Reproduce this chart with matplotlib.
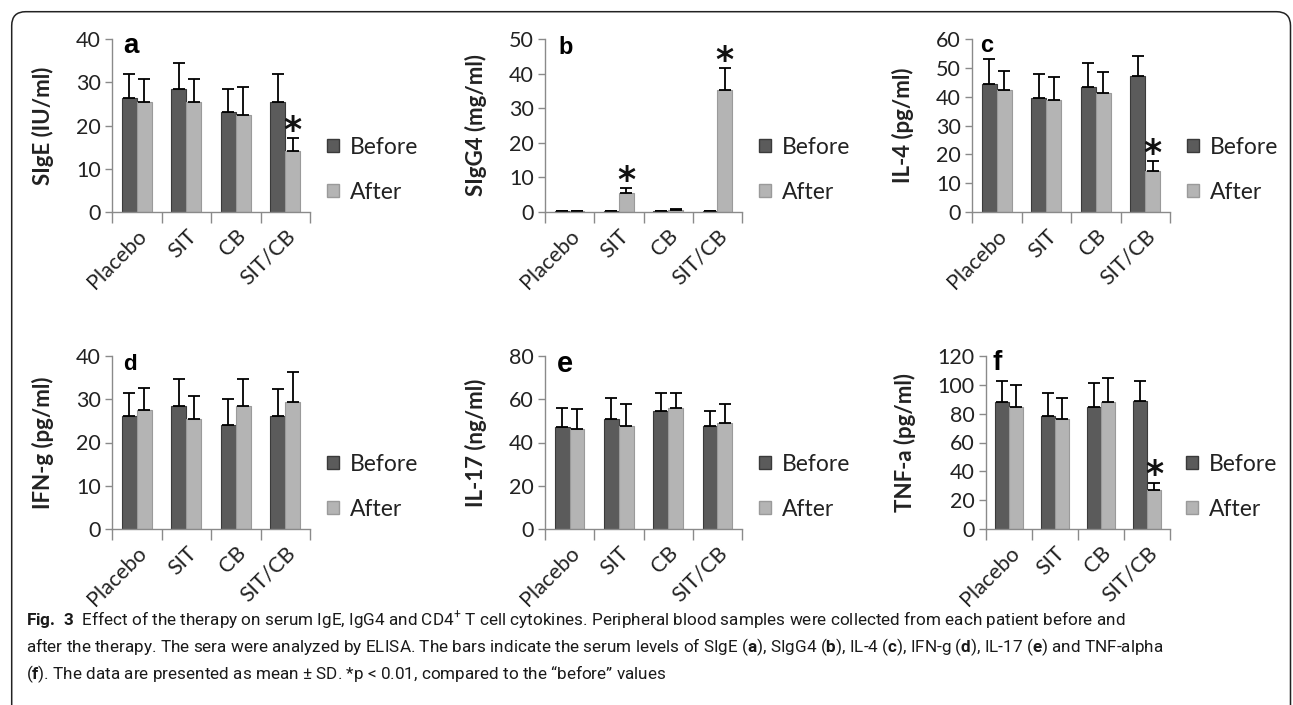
"""
Fig. 3 - serum IgE, IgG4 and CD4+ T cell cytokines, before/after therapy
"""
import matplotlib
matplotlib.use("Agg")
import matplotlib.pyplot as plt
from matplotlib.patches import FancyBboxPatch, Patch
from matplotlib.transforms import IdentityTransform

# ============ data ============
groups = ['Placebo', 'SIT', 'CB', 'SIT/CB']

sige_before    = [26.3, 28.5, 23.2, 25.5]
sige_before_sd = [5.7, 6.0, 5.3, 6.5]
sige_after     = [25.5, 25.4, 22.5, 14.0]
sige_after_sd  = [5.3, 5.4, 6.4, 3.0]

sigg4_before    = [0.3, 0.3, 0.3, 0.3]
sigg4_before_sd = [0.1, 0.1, 0.1, 0.1]
sigg4_after     = [0.3, 5.5, 0.5, 35.3]
sigg4_after_sd  = [0.1, 1.3, 0.5, 6.2]

il4_before    = [44.5, 39.5, 43.5, 47.0]
il4_before_sd = [8.5, 8.5, 8.3, 7.2]
il4_after     = [42.3, 39.0, 41.3, 14.3]
il4_after_sd  = [6.7, 7.7, 7.1, 3.3]

ifng_before    = [26.2, 28.5, 24.0, 26.2]
ifng_before_sd = [5.3, 6.1, 6.0, 6.1]
ifng_after     = [27.4, 25.4, 28.5, 29.3]
ifng_after_sd  = [5.3, 5.3, 6.1, 6.9]

il17_before    = [47.2, 50.8, 54.7, 47.8]
il17_before_sd = [8.9, 9.9, 8.2, 6.7]
il17_after     = [46.1, 47.8, 56.1, 49.2]
il17_after_sd  = [9.4, 9.8, 6.8, 8.4]

tnf_before    = [87.9, 78.6, 84.4, 89.0]
tnf_before_sd = [15.0, 16.0, 16.9, 13.9]
tnf_after     = [84.4, 76.3, 87.9, 26.8]
tnf_after_sd  = [15.7, 14.8, 17.1, 5.3]

# groups whose "after" bar carries an asterisk
sige_sig  = ['SIT/CB']
sigg4_sig = ['SIT', 'SIT/CB']
il4_sig   = ['SIT/CB']
ifng_sig  = []
il17_sig  = []
tnf_sig   = ['SIT/CB']

# ============ style ============
C_BEFORE, E_BEFORE = '#5b5b5b', '#3a3a3a'
C_AFTER, E_AFTER = '#b4b4b4', '#9a9a9a'
AX_COLOR = '#8a8a8a'
TXT = '#222222'
TICK_FONT = ['Lato', 'DejaVu Sans']

plt.rcParams['mathtext.fontset'] = 'custom'
plt.rcParams['mathtext.rm'] = 'Roboto'
plt.rcParams['mathtext.bf'] = 'Roboto:bold'

W, H = 1293, 705
fig = plt.figure(figsize=(W / 100, H / 100), dpi=100)


def px_axes(left, top, right, bottom):
    return fig.add_axes([left / W, 1 - bottom / H, (right - left) / W, (bottom - top) / H])


panels = [
    # (px box, letter, letter pos, letter size, ylabel, ymax, step, data..., sig)
    ((112, 39, 310, 212), 'a', (0.056, 0.919), 20, 'SIgE (IU/ml)', 40, 10,
     sige_before, sige_before_sd, sige_after, sige_after_sd, sige_sig),
    ((545, 39, 742, 212), 'b', (0.066, 0.913), 17, 'SIgG4 (mg/ml)', 50, 10,
     sigg4_before, sigg4_before_sd, sigg4_after, sigg4_after_sd, sigg4_sig),
    ((972, 39, 1170, 212), 'c', (0.040, 0.925), 17, 'IL-4 (pg/ml)', 60, 10,
     il4_before, il4_before_sd, il4_after, il4_after_sd, il4_sig),
    ((112, 356, 310, 529), 'd', (0.056, 0.919), 16, 'IFN-g (pg/ml)', 40, 10,
     ifng_before, ifng_before_sd, ifng_after, ifng_after_sd, ifng_sig),
    ((545, 356, 742, 529), 'e', (0.061, 0.908), 21, 'IL-17 (ng/ml)', 80, 20,
     il17_before, il17_before_sd, il17_after, il17_after_sd, il17_sig),
    ((986, 356, 1170, 529), 'f', (0.038, 0.919), 20, 'TNF-a (pg/ml)', 120, 20,
     tnf_before, tnf_before_sd, tnf_after, tnf_after_sd, tnf_sig),
]

for box, letter, lpos, lsize, ylabel, ymax, step, bef, bef_sd, aft, aft_sd, sig in panels:
    ax = px_axes(*box)
    n = len(groups)
    xb = [i + 0.35 for i in range(n)]
    xa = [i + 0.65 for i in range(n)]

    ax.bar(xb, bef, width=0.3, color=C_BEFORE, edgecolor=E_BEFORE, linewidth=0.8,
           yerr=[[0] * n, bef_sd], capsize=4,
           error_kw=dict(ecolor='black', elinewidth=1.3, capthick=1.3))
    ax.bar(xa, aft, width=0.3, color=C_AFTER, edgecolor=E_AFTER, linewidth=0.8,
           yerr=[[0] * n, aft_sd], capsize=4,
           error_kw=dict(ecolor='black', elinewidth=1.3, capthick=1.3))

    for g in sig:
        i = groups.index(g)
        ax.annotate('*', (xa[i], aft[i] + aft_sd[i]), xytext=(0, -7),
                    textcoords='offset points', ha='center', va='bottom',
                    fontsize=25, fontweight='bold', color='#111111',
                    family=['DejaVu Sans'])

    ax.set_xlim(0, n)
    ax.set_ylim(0, ymax)
    ax.set_yticks(range(0, ymax + 1, step))
    ax.set_xticks(range(n + 1))
    ax.set_xticklabels([])
    ax.set_xticks([i + 0.5 for i in range(n)], minor=True)
    ax.set_xticklabels(groups, minor=True, rotation=45, ha='right', va='top',
                       rotation_mode='anchor')
    ax.tick_params(axis='x', which='major', length=8, width=1, color=AX_COLOR, direction='out')
    ax.tick_params(axis='x', which='minor', length=0, pad=10)
    ax.tick_params(axis='y', length=5, width=1, color=AX_COLOR, pad=3)
    for lab in ax.get_xticklabels(minor=True) + ax.get_yticklabels():
        lab.set_family(TICK_FONT)
        lab.set_fontsize(15.5)
        lab.set_color(TXT)

    for s in ['top', 'right']:
        ax.spines[s].set_visible(False)
    for s in ['left', 'bottom']:
        ax.spines[s].set_color(AX_COLOR)
        ax.spines[s].set_linewidth(1.0)

    ax.set_ylabel(ylabel, fontsize=16, fontweight='bold', family=TICK_FONT,
                  color=TXT, labelpad=16)
    ax.text(lpos[0], lpos[1], letter, transform=ax.transAxes, fontsize=lsize,
            fontweight='bold', family=['Liberation Sans', 'DejaVu Sans'],
            color='black', va='baseline')

    handles = [Patch(facecolor=C_BEFORE, edgecolor=E_BEFORE, label='Before'),
               Patch(facecolor=C_AFTER, edgecolor=E_AFTER, label='After')]
    leg = ax.legend(handles=handles, loc='center left', frameon=False,
                    bbox_to_anchor=(1.085, 0.245),
                    handlelength=0.55, handleheight=0.55, handletextpad=0.45,
                    labelspacing=1.05, borderpad=0, borderaxespad=0,
                    prop=dict(family=TICK_FONT, size=16.5))
    for t in leg.get_texts():
        t.set_color(TXT)

# ============ caption ============
CAP_FONT = ['Roboto', 'DejaVu Sans']
cap_lines = [
    r"$\mathbf{Fig.\ 3}$  Effect of the therapy on serum IgE, IgG4 and CD4$^{+}$ T cell cytokines. "
    r"Peripheral blood samples were collected from each patient before and",
    r"after the therapy. The sera were analyzed by ELISA. The bars indicate the serum levels of "
    r"SIgE ($\mathbf{a}$), SIgG4 ($\mathbf{b}$), IL-4 ($\mathbf{c}$), IFN-g ($\mathbf{d}$), "
    r"IL-17 ($\mathbf{e}$) and TNF-alpha",
    r"($\mathbf{f}$). The data are presented as mean ± SD. *p < 0.01, compared to the “before” values",
]
cap_texts = []
for k, line in enumerate(cap_lines):
    cap_texts.append(fig.text(26 / W, 1 - (621 + 26.5 * k) / H, line, family=CAP_FONT,
                              fontsize=12, color='#1a1a1a', va='center', ha='left'))

# shrink the caption so the second line ends where it does in the figure
fig.canvas.draw()
r = fig.canvas.get_renderer()
w2 = cap_texts[1].get_window_extent(r).width
scale = (1164 - 26) / w2
for t in cap_texts:
    t.set_fontsize(12 * scale)

# ============ rounded frame (bottom runs off the page) ============
frame = FancyBboxPatch((11.7, -60), 1290.5 - 11.7, 693.3 + 60,
                       boxstyle='round,pad=0,rounding_size=14',
                       transform=IdentityTransform(), facecolor='none',
                       edgecolor='#222222', linewidth=1.1)
fig.add_artist(frame)

fig.savefig('out.png', dpi=100)
